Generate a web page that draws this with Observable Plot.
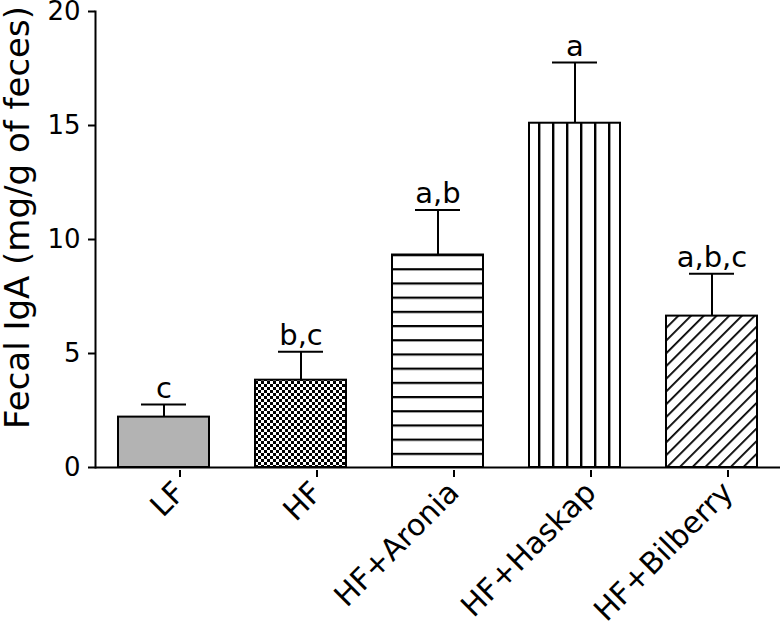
<!DOCTYPE html>
<html>
<head>
<meta charset="utf-8">
<script src="https://cdn.jsdelivr.net/npm/d3@7"></script>
<script src="https://cdn.jsdelivr.net/npm/@observablehq/plot@0.6"></script>
<style>
  html, body { margin: 0; padding: 0; background: #fff; }
  svg { display: block; }
</style>
</head>
<body>
<div id="chart"></div>
<script>
const groups = ["LF", "HF", "HF+Aronia", "HF+Haskap", "HF+Bilberry"];
const means = [2.21, 3.83, 9.32, 15.10, 6.64];
const errors = [0.55, 1.25, 1.97, 2.66, 1.86];
const letters = ["c", "b,c", "a,b", "a", "a,b,c"];
const fills = ["#b3b3b3", "url(#pat-check)", "url(#pat-hlines)", "url(#pat-vlines)", "url(#pat-diag)"];
const yTicks = [0, 5, 10, 15, 20];
const yTitle = ["Fecal IgA (mg/g of feces)"];

const data = groups.map((g, i) => ({group: g, mean: means[i], err: errors[i], top: means[i] + errors[i], letter: letters[i], fill: fills[i]}));

const font = "DejaVu Sans, Verdana, sans-serif";

const chart = Plot.plot({
  width: 783,
  height: 621,
  marginTop: 11,
  marginBottom: 154,
  marginLeft: 95,
  marginRight: 3,
  style: {fontFamily: font, fontSize: "26px", color: "#000", background: "#fff", overflow: "visible"},
  x: {domain: groups, paddingInner: 0.335, paddingOuter: 0.1675, label: null},
  y: {domain: [0, 20], label: null},
  marks: [
    Plot.barY(data, {x: "group", y: "mean", fill: "fill", stroke: "#000", strokeWidth: 2}),
    Plot.ruleX(data, {x: "group", y1: "mean", y2: "top", stroke: "#000", strokeWidth: 2}),
    Plot.tickY(data, {x: "group", y: "top", stroke: "#000", strokeWidth: 2, insetLeft: 23, insetRight: 23}),
    Plot.text(data, {x: "group", y: "top", text: "letter", dy: -7, lineAnchor: "bottom", fontSize: 29, fill: "#000"}),
    Plot.ruleY([0], {stroke: "#000", strokeWidth: 2}),
    Plot.frame({anchor: "left", stroke: "#000", strokeWidth: 2}),
    Plot.axisY({ticks: yTicks, tickSize: 7, tickPadding: 8, tickFormat: d => d, fontSize: 26, strokeWidth: 2, label: null}),
    Plot.axisX({tickSize: 7, tickPadding: 10, tickRotate: -45, fontSize: 30, strokeWidth: 2, label: null, dx: 16, dy: 3}),
    Plot.text(yTitle, {frameAnchor: "left", text: d => d, rotate: -90, dx: -77, dy: -22, fontSize: 34, fill: "#000", textAnchor: "middle"})
  ]
});

const defs = d3.create("svg:defs");
// checkerboard
const pc = defs.append("pattern").attr("id", "pat-check").attr("patternUnits", "userSpaceOnUse").attr("width", 6).attr("height", 6);
pc.append("rect").attr("width", 6).attr("height", 6).attr("fill", "#fff");
pc.append("rect").attr("width", 3).attr("height", 3).attr("fill", "#000");
pc.append("rect").attr("x", 3).attr("y", 3).attr("width", 3).attr("height", 3).attr("fill", "#000");
// horizontal lines
const ph = defs.append("pattern").attr("id", "pat-hlines").attr("patternUnits", "userSpaceOnUse").attr("width", 10).attr("height", 14.2).attr("y", 467);
ph.append("rect").attr("width", 10).attr("height", 14.2).attr("fill", "#fff");
ph.append("rect").attr("y", 0).attr("width", 10).attr("height", 2.2).attr("fill", "#000");
// vertical lines
const pv = defs.append("pattern").attr("id", "pat-vlines").attr("patternUnits", "userSpaceOnUse").attr("width", 14).attr("height", 10).attr("x", 6);
pv.append("rect").attr("width", 14).attr("height", 10).attr("fill", "#fff");
pv.append("rect").attr("x", 0).attr("width", 2.4).attr("height", 10).attr("fill", "#000");
// diagonal
const pd = defs.append("pattern").attr("id", "pat-diag").attr("patternUnits", "userSpaceOnUse").attr("width", 9).attr("height", 9).attr("patternTransform", "rotate(45)");
pd.append("rect").attr("width", 9).attr("height", 9).attr("fill", "#fff");
pd.append("rect").attr("x", 0).attr("width", 1.8).attr("height", 9).attr("fill", "#000");

chart.insertBefore(defs.node(), chart.firstChild);
document.getElementById("chart").appendChild(chart);
</script>
</body>
</html>
